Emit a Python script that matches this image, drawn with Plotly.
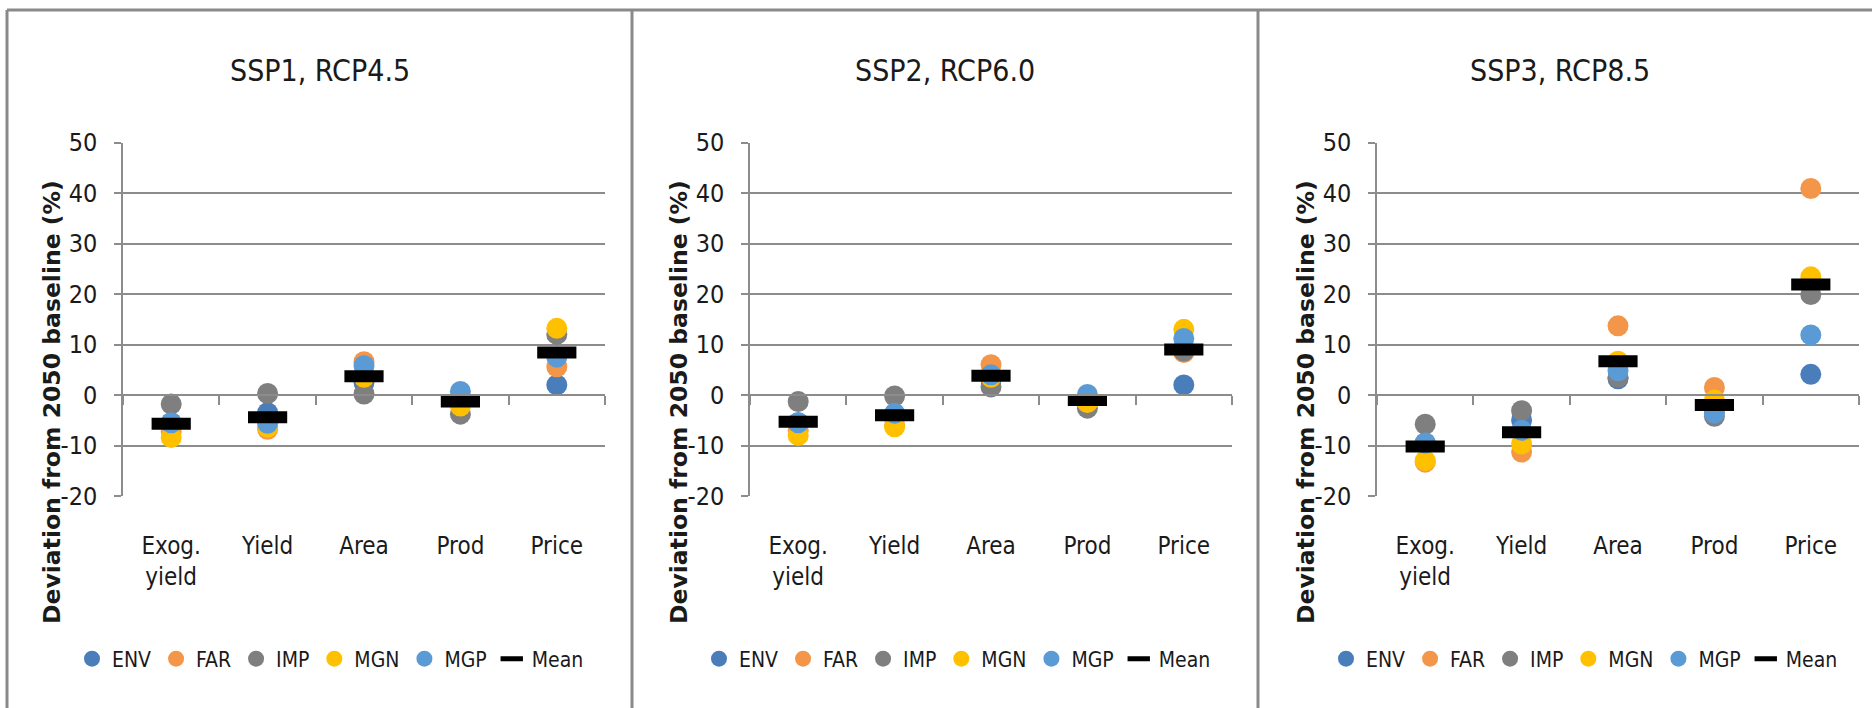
import plotly.graph_objects as go

CATEGORIES = ["Exog.<br>yield", "Yield", "Area", "Prod", "Price"]
SCENARIOS = ["ENV", "FAR", "IMP", "MGN", "MGP"]
PANEL_TITLES = ["SSP1, RCP4.5", "SSP2, RCP6.0", "SSP3, RCP8.5"]
Y_TITLE = "Deviation from 2050 baseline (%)"
Y_TICKS = [-20, -10, 0, 10, 20, 30, 40, 50]
Y_TICK_LABELS = ["-20", "-10", "0", "10", "20", "30", "40", "50"]

# SSP1, RCP4.5
SSP1_ENV = [-5.5, -3.5, 2.5, -0.6, 2.0]
SSP1_FAR = [-7.3, -6.8, 6.6, -0.6, 5.6]
SSP1_IMP = [-1.8, 0.3, 0.2, -3.8, 12.0]
SSP1_MGN = [-8.4, -6.4, 3.5, -2.2, 13.2]
SSP1_MGP = [-5.5, -5.6, 5.8, 0.7, 7.5]
SSP1_MEAN = [-5.7, -4.4, 3.7, -1.3, 8.4]

# SSP2, RCP6.0
SSP2_ENV = [-5.5, -4.5, 3.0, -0.5, 2.0]
SSP2_FAR = [-7.0, -6.0, 6.0, -0.5, 8.4]
SSP2_IMP = [-1.3, -0.2, 1.6, -2.6, 8.7]
SSP2_MGN = [-8.0, -6.3, 3.5, -1.5, 13.0]
SSP2_MGP = [-5.5, -3.6, 4.0, 0.1, 11.2]
SSP2_MEAN = [-5.3, -4.0, 3.8, -1.0, 9.0]

# SSP3, RCP8.5
SSP3_ENV = [-9.5, -5.0, 3.2, -3.0, 4.1]
SSP3_FAR = [-13.3, -11.3, 13.7, 1.5, 40.9]
SSP3_IMP = [-5.8, -3.1, 3.5, -4.2, 19.9]
SSP3_MGN = [-13.0, -9.7, 6.7, -1.0, 23.4]
SSP3_MGP = [-9.5, -7.0, 4.8, -3.6, 11.9]
SSP3_MEAN = [-10.2, -7.4, 6.7, -2.0, 21.9]

PANELS = [
    [SSP1_ENV, SSP1_FAR, SSP1_IMP, SSP1_MGN, SSP1_MGP, SSP1_MEAN],
    [SSP2_ENV, SSP2_FAR, SSP2_IMP, SSP2_MGN, SSP2_MGP, SSP2_MEAN],
    [SSP3_ENV, SSP3_FAR, SSP3_IMP, SSP3_MGN, SSP3_MGP, SSP3_MEAN],
]

COLORS = ["#4a7ebb", "#f4964a", "#7f7f7f", "#ffc000", "#5b9bd5"]
NARROW = "Liberation Sans Narrow, DejaVu Sans Condensed, Arial Narrow, sans-serif"
W, H = 1872, 708
GRID = "#8c8c8c"
TXT = "#1a1a1a"

x_domains = [[123 / W, 605 / W], [750 / W, 1232 / W], [1377 / W, 1859 / W]]
y_domain = [1 - 496 / H, 1 - 142.5 / H]
YMIN, YMAX = -20, 50
zero_pos = y_domain[0] + (0 - YMIN) / (YMAX - YMIN) * (y_domain[1] - y_domain[0])
panel_left = [7, 632, 1258]
panel_right = [632, 1258, W]

xpos = list(range(len(CATEGORIES)))

fig = go.Figure()
layout = dict(
    width=W, height=H, margin=dict(l=0, r=0, t=0, b=0, pad=0, autoexpand=False),
    paper_bgcolor="white", plot_bgcolor="white", showlegend=True,
    annotations=[], shapes=[],
)

for p, series in enumerate(PANELS):
    n = p + 1
    xa = "x" if n == 1 else f"x{n}"
    ya = "y" if n == 1 else f"y{n}"
    lg = "legend" if n == 1 else f"legend{n}"
    for s, name in enumerate(SCENARIOS):
        fig.add_trace(go.Scatter(
            x=xpos, y=series[s], mode="markers", name=name,
            marker=dict(symbol="circle", size=21, color=COLORS[s], line=dict(width=0)),
            xaxis=xa, yaxis=ya, legend=lg,
        ))
    fig.add_trace(go.Scatter(
        x=xpos, y=series[5], mode="markers", name="Mean",
        marker=dict(symbol="line-ew", size=28, color="black",
                    line=dict(width=12, color="black")),
        xaxis=xa, yaxis=ya, legend=lg,
    ))
    # dummy trace to register the zero-line axis
    zx = f"x{n + 3}"
    fig.add_trace(go.Scatter(x=[0], y=[None], xaxis=zx, yaxis=ya, showlegend=False,
                             hoverinfo="skip", mode="markers"))

    layout["xaxis" if n == 1 else f"xaxis{n}"] = dict(
        domain=x_domains[p], anchor=ya, range=[-0.5, 4.5],
        tickmode="array", tickvals=xpos, ticktext=CATEGORIES,
        showgrid=False, zeroline=False, showline=False,
        ticks="outside", ticklen=28, tickcolor="rgba(0,0,0,0)",
        tickfont=dict(family=NARROW, size=24, color=TXT),
    )
    layout[f"xaxis{n + 3}"] = dict(
        overlaying=xa, anchor="free", position=zero_pos, range=[-0.5, 4.5],
        domain=x_domains[p],
        tickmode="array", tickvals=[v + 0.5 for v in [-1] + xpos],
        showticklabels=False, showgrid=False, zeroline=False,
        showline=True, linecolor=GRID, linewidth=1.5,
        ticks="outside", ticklen=9, tickcolor=GRID, tickwidth=1.5,
    )
    layout["yaxis" if n == 1 else f"yaxis{n}"] = dict(
        domain=y_domain, anchor=xa, range=[YMIN, YMAX],
        tickmode="array", tickvals=Y_TICKS, ticktext=Y_TICK_LABELS,
        showgrid=True, gridcolor=GRID, gridwidth=1.5, zeroline=False,
        showline=True, linecolor=GRID, linewidth=1.5,
        ticks="outside", ticklen=7, tickcolor=GRID, tickwidth=1.5,
        ticklabelstandoff=12,
        tickfont=dict(family=NARROW, size=25, color=TXT),
    )
    layout[lg] = dict(
        orientation="h", x=(x_domains[p][0] * W - 51) / W, xanchor="left",
        y=1 - 659 / H, yanchor="middle", bgcolor="rgba(0,0,0,0)",
        font=dict(family=NARROW, size=21, color=TXT),
        itemsizing="trace",
    )
    cx = (panel_left[p] + panel_right[p]) / 2 / W
    if p == 2:
        cx -= 5 / W
    layout["annotations"].append(dict(
        text=PANEL_TITLES[p], xref="paper", yref="paper", x=cx, y=1 - 70 / H,
        xanchor="center", yanchor="middle", showarrow=False,
        font=dict(family=NARROW, size=30, color=TXT),
    ))
    layout["annotations"].append(dict(
        text=Y_TITLE, xref="paper", yref="paper",
        x=(x_domains[p][0] * W - 71) / W, y=1 - 402 / H,
        xanchor="center", yanchor="middle", textangle=-90, showarrow=False,
        font=dict(family="DejaVu Sans", size=23.5, color=TXT, weight="bold"),
    ))

# panel frames
layout["shapes"].append(dict(type="line", xref="paper", yref="paper",
                             x0=7 / W, x1=1, y0=1 - 10 / H, y1=1 - 10 / H,
                             line=dict(color="#8a8a8a", width=3)))
for xl in panel_left:
    layout["shapes"].append(dict(type="line", xref="paper", yref="paper",
                                 x0=xl / W, x1=xl / W, y0=0, y1=1 - 10 / H,
                                 line=dict(color="#8a8a8a", width=3)))

fig.update_layout(**layout)
fig.write_html("out.html", config={"displayModeBar": False},
               post_script="document.body.style.margin='0';")
